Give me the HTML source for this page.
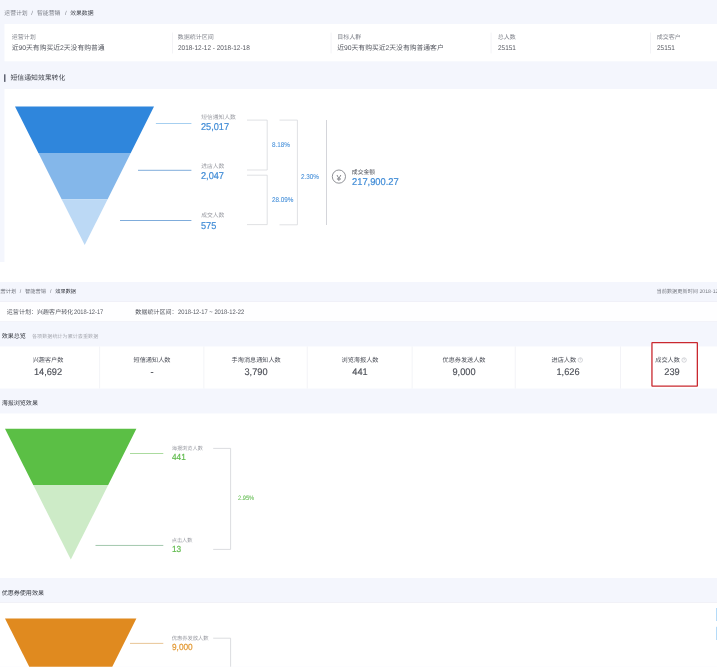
<!DOCTYPE html>
<html lang="zh-CN">
<head>
<meta charset="utf-8">
<title>效果数据</title>
<style>
html,body{margin:0;padding:0;background:#fff;}
body{width:717px;height:669px;position:relative;overflow:hidden;font-family:"Liberation Sans","Noto Sans CJK SC",sans-serif;-webkit-text-size-adjust:none;text-rendering:geometricPrecision;}
.r{position:absolute;}
.t{position:absolute;white-space:nowrap;display:block;}
.num{-webkit-text-stroke:0.2px currentColor;}
.pct{-webkit-text-stroke:0.1px currentColor;}
.num2{-webkit-text-stroke:0.15px currentColor;}
svg{position:absolute;left:0;top:0;}
</style>
</head>
<body>
<svg width="717" height="669" viewBox="0 0 717 669">
<rect x="0" y="0" width="717" height="262" fill="#f4f6fd"/>
<rect x="4.5" y="24" width="712.5" height="37.3" fill="#fff"/>
<rect x="4.5" y="89" width="712.5" height="173" fill="#fff"/>
<rect x="172.2" y="32.5" width="0.7" height="21" fill="#eeeef2"/>
<rect x="330.7" y="32.5" width="0.7" height="21" fill="#eeeef2"/>
<rect x="490.7" y="32.5" width="0.7" height="21" fill="#eeeef2"/>
<rect x="650.2" y="32.5" width="0.7" height="21" fill="#eeeef2"/>
<rect x="4.2" y="74.3" width="1.2" height="7.6" fill="#3c4050"/>
<rect x="0" y="282" width="717" height="384.7" fill="#f4f6fd"/>
<rect x="0" y="301.5" width="717" height="20" fill="#fefeff"/>
<rect x="0" y="301.2" width="717" height="0.6" fill="#e9eaf3"/>
<rect x="0" y="321.2" width="717" height="0.6" fill="#eeeff6"/>
<rect x="0" y="346.5" width="717" height="42" fill="#fff"/>
<rect x="99.3" y="346.5" width="0.8" height="42" fill="#f0f1f5"/>
<rect x="203.5" y="346.5" width="0.8" height="42" fill="#f0f1f5"/>
<rect x="306.8" y="346.5" width="0.8" height="42" fill="#f0f1f5"/>
<rect x="411.7" y="346.5" width="0.8" height="42" fill="#f0f1f5"/>
<rect x="514.8" y="346.5" width="0.8" height="42" fill="#f0f1f5"/>
<rect x="620.2" y="346.5" width="0.8" height="42" fill="#f0f1f5"/>
<rect x="651.5" y="342.2" width="46.3" height="44.4" fill="#fff"/>
<rect x="0" y="413.5" width="717" height="164.5" fill="#fff"/>
<rect x="0" y="602.3" width="717" height="64.4" fill="#fff"/>
<rect x="0" y="602" width="717" height="0.6" fill="#e9eaf2"/>
<rect x="716" y="608" width="1" height="13" fill="#b5dbf8"/>
<rect x="716" y="626.8" width="1" height="13.2" fill="#b5dbf8"/>
<rect x="0" y="666.7" width="717" height="2.3" fill="#fff"/>
<polygon points="15.00,106.50 154.00,106.50 130.73,153.00 38.40,153.00" fill="#2f86dc"/>
<polygon points="38.40,153.00 130.73,153.00 107.62,199.20 61.65,199.20" fill="#84b7ea"/>
<polygon points="61.65,199.20 107.62,199.20 84.70,245.00 84.70,245.00" fill="#bcd9f5"/>
<line x1="155.9" y1="123.5" x2="191.4" y2="123.5" stroke="#8fc3ec" stroke-width="0.8"/>
<line x1="138" y1="170.3" x2="191.4" y2="170.3" stroke="#5e97d2" stroke-width="0.8"/>
<line x1="120" y1="220.5" x2="191.4" y2="220.5" stroke="#5e97d2" stroke-width="0.8"/>
<polyline points="247.00,120.10 267.20,120.10 267.20,170.00 247.00,170.00" fill="none" stroke="#d3d4d9" stroke-width="0.7"/>
<polyline points="247.00,175.20 267.20,175.20 267.20,224.60 247.00,224.60" fill="none" stroke="#d3d4d9" stroke-width="0.7"/>
<polyline points="279.50,120.10 297.40,120.10 297.40,224.80 279.50,224.80" fill="none" stroke="#d3d4d9" stroke-width="0.7"/>
<line x1="326.5" y1="120" x2="326.5" y2="225" stroke="#c9cad0" stroke-width="0.8"/>
<circle cx="338.9" cy="176.6" r="6.6" fill="none" stroke="#74767c" stroke-width="0.8"/>
<circle cx="580.30" cy="360.0" r="2.25" fill="none" stroke="#adafb6" stroke-width="0.5"/>
<circle cx="684.10" cy="360.0" r="2.25" fill="none" stroke="#adafb6" stroke-width="0.5"/>
<rect x="651.95" y="342.65" width="45.4" height="43.5" rx="0.3" fill="none" stroke="#c9282f" stroke-width="1.3"/>
<polygon points="5.00,428.80 136.40,428.80 108.21,485.00 33.27,485.00" fill="#5bbf45"/>
<polygon points="33.27,485.00 108.21,485.00 70.80,559.60 70.80,559.60" fill="#cdebc7"/>
<line x1="130" y1="453.5" x2="163.3" y2="453.5" stroke="#86cb76" stroke-width="0.7"/>
<line x1="95.5" y1="545.45" x2="163.3" y2="545.45" stroke="#7bb08a" stroke-width="0.7"/>
<polyline points="213.20,448.40 230.60,448.40 230.60,549.40 213.20,549.40" fill="none" stroke="#cdced3" stroke-width="0.7"/>
<polygon points="5.00,618.50 136.40,618.50 112.23,666.70 29.25,666.70" fill="#e08a1f"/>
<line x1="130" y1="643.4" x2="163.3" y2="643.4" stroke="#e2b77c" stroke-width="0.8"/>
<polyline points="213.20,638.20 230.60,638.20 230.60,666.70" fill="none" stroke="#cdced3" stroke-width="0.7"/>
</svg>
<span class="t " style="left:4.3px;top:9.5px;font-size:5.85px;line-height:8.19px;color:#7c7f88;">运营计划</span>
<span class="t " style="left:31.2px;top:9.5px;font-size:5.85px;line-height:8.19px;color:#7c7f88;">/</span>
<span class="t " style="left:37.0px;top:9.5px;font-size:5.85px;line-height:8.19px;color:#7c7f88;">智能营销</span>
<span class="t " style="left:65px;top:9.5px;font-size:5.85px;line-height:8.19px;color:#7c7f88;">/</span>
<span class="t " style="left:70.2px;top:9.5px;font-size:5.85px;line-height:8.19px;color:#44474f;">效果数据</span>
<span class="t " style="left:11.7px;top:33.8px;font-size:6.0px;line-height:8.4px;color:#82858d;">运营计划</span>
<span class="t " style="left:11.7px;top:44.04px;font-size:6.8px;line-height:9.52px;color:#565961;">近90天有购买近2天没有购普通</span>
<span class="t " style="left:177.7px;top:33.8px;font-size:6.0px;line-height:8.4px;color:#82858d;">数据统计区间</span>
<span class="t " style="left:178px;top:43.64px;font-size:6.8px;line-height:9.52px;color:#565961;transform-origin:left center;transform:scaleX(0.95);">2018-12-12 - 2018-12-18</span>
<span class="t " style="left:337.2px;top:33.8px;font-size:6.0px;line-height:8.4px;color:#82858d;">目标人群</span>
<span class="t " style="left:337.2px;top:44.04px;font-size:6.8px;line-height:9.52px;color:#565961;">近90天有购买近2天没有购普通客户</span>
<span class="t " style="left:497.7px;top:33.8px;font-size:6.0px;line-height:8.4px;color:#82858d;">总人数</span>
<span class="t " style="left:498px;top:43.64px;font-size:6.8px;line-height:9.52px;color:#565961;transform-origin:left center;transform:scaleX(0.95);">25151</span>
<span class="t " style="left:656.7px;top:33.8px;font-size:6.0px;line-height:8.4px;color:#82858d;">成交客户</span>
<span class="t " style="left:657px;top:43.64px;font-size:6.8px;line-height:9.52px;color:#565961;transform-origin:left center;transform:scaleX(0.95);">25151</span>
<span class="t " style="left:10.5px;top:74.11px;font-size:6.85px;line-height:9.59px;color:#3c3f48;">短信通知效果转化</span>
<span class="t " style="left:201.2px;top:114.07px;font-size:5.75px;line-height:8.05px;color:#999ba2;">短信通知人数</span>
<span class="t num" style="left:201.3px;top:120.57px;font-size:9.9px;line-height:13.86px;color:#3f8bd6;transform-origin:left center;transform:scaleX(0.93);">25,017</span>
<span class="t " style="left:201.2px;top:162.78px;font-size:5.75px;line-height:8.05px;color:#999ba2;">进店人数</span>
<span class="t num" style="left:201.3px;top:169.57px;font-size:9.9px;line-height:13.86px;color:#3f8bd6;transform-origin:left center;transform:scaleX(0.93);">2,047</span>
<span class="t " style="left:201.2px;top:212.17px;font-size:5.75px;line-height:8.05px;color:#999ba2;">成交人数</span>
<span class="t num" style="left:201.3px;top:220.37px;font-size:9.9px;line-height:13.86px;color:#3f8bd6;transform-origin:left center;transform:scaleX(0.93);">575</span>
<span class="t pct" style="left:272px;top:140.8px;font-size:7.0px;line-height:9.8px;color:#4a92da;transform-origin:left center;transform:scaleX(0.905);">8.18%</span>
<span class="t pct" style="left:272.2px;top:195.8px;font-size:7.0px;line-height:9.8px;color:#4a92da;transform-origin:left center;transform:scaleX(0.905);">28.09%</span>
<span class="t pct" style="left:300.8px;top:173.1px;font-size:7.0px;line-height:9.8px;color:#4a92da;transform-origin:left center;transform:scaleX(0.905);">2.30%</span>
<span class="t " style="left:338.9px;top:171.78px;font-size:8.6px;line-height:12.04px;color:#74767c;transform-origin:center;transform:translateX(-50%);">¥</span>
<span class="t " style="left:351.8px;top:168.5px;font-size:5.85px;line-height:8.19px;color:#4c4f57;">成交金额</span>
<span class="t num" style="left:351.8px;top:176.37px;font-size:9.9px;line-height:13.86px;color:#3f8bd6;transform-origin:left center;transform:scaleX(0.945);">217,900.27</span>
<span class="t " style="left:-4.6px;top:289.16px;font-size:5.2px;line-height:7.28px;color:#70737c;">运营计划</span>
<span class="t " style="left:19.8px;top:289.16px;font-size:5.2px;line-height:7.28px;color:#70737c;">/</span>
<span class="t " style="left:25.1px;top:289.16px;font-size:5.2px;line-height:7.28px;color:#70737c;">智能营销</span>
<span class="t " style="left:50px;top:289.16px;font-size:5.2px;line-height:7.28px;color:#70737c;">/</span>
<span class="t " style="left:55.3px;top:289.16px;font-size:5.2px;line-height:7.28px;color:#33363e;">效果数据</span>
<span class="t " style="left:656.5px;top:288.96px;font-size:5.2px;line-height:7.28px;color:#777a82;">当前数据更新时间 2018-12-22 10:00</span>
<span class="t " style="left:6.8px;top:308.76px;font-size:6.05px;line-height:8.47px;color:#54575f;">运营计划：兴趣客户转化</span>
<span class="t " style="left:73.5px;top:308.05px;font-size:6.5px;line-height:9.1px;color:#54575f;transform-origin:left center;transform:scaleX(0.88);">2018-12-17</span>
<span class="t " style="left:135.3px;top:308.76px;font-size:6.05px;line-height:8.47px;color:#54575f;">数据统计区间：</span>
<span class="t " style="left:178.2px;top:308.05px;font-size:6.5px;line-height:9.1px;color:#54575f;transform-origin:left center;transform:scaleX(0.895);">2018-12-17 ~ 2018-12-22</span>
<span class="t " style="left:1.7px;top:333.16px;font-size:6.05px;line-height:8.47px;color:#33363e;">效果总览</span>
<span class="t " style="left:32px;top:333.93px;font-size:5.1px;line-height:7.14px;color:#a9abb3;">各项数据统计为累计去重数据</span>
<span class="t " style="left:48px;top:356.5px;font-size:6.15px;line-height:8.61px;color:#50535c;transform-origin:center;transform:translateX(-50%);">兴趣客户数</span>
<span class="t num2" style="left:48px;top:365.58px;font-size:9.6px;line-height:13.44px;color:#4c4f57;transform-origin:center;transform:translateX(-50%) scaleX(0.96);">14,692</span>
<span class="t " style="left:152px;top:356.5px;font-size:6.15px;line-height:8.61px;color:#50535c;transform-origin:center;transform:translateX(-50%);">短信通知人数</span>
<span class="t num2" style="left:152px;top:365.58px;font-size:9.6px;line-height:13.44px;color:#4c4f57;transform-origin:center;transform:translateX(-50%) scaleX(0.96);">-</span>
<span class="t " style="left:256.2px;top:356.5px;font-size:6.15px;line-height:8.61px;color:#50535c;transform-origin:center;transform:translateX(-50%);">手淘消息通知人数</span>
<span class="t num2" style="left:256.2px;top:365.58px;font-size:9.6px;line-height:13.44px;color:#4c4f57;transform-origin:center;transform:translateX(-50%) scaleX(0.96);">3,790</span>
<span class="t " style="left:360px;top:356.5px;font-size:6.15px;line-height:8.61px;color:#50535c;transform-origin:center;transform:translateX(-50%);">浏览海报人数</span>
<span class="t num2" style="left:360px;top:365.58px;font-size:9.6px;line-height:13.44px;color:#4c4f57;transform-origin:center;transform:translateX(-50%) scaleX(0.96);">441</span>
<span class="t " style="left:464px;top:356.5px;font-size:6.15px;line-height:8.61px;color:#50535c;transform-origin:center;transform:translateX(-50%);">优惠券发送人数</span>
<span class="t num2" style="left:464px;top:365.58px;font-size:9.6px;line-height:13.44px;color:#4c4f57;transform-origin:center;transform:translateX(-50%) scaleX(0.96);">9,000</span>
<span class="t " style="left:551.5px;top:356.5px;font-size:6.15px;line-height:8.61px;color:#50535c;">进店人数</span>
<span class="t " style="left:580.3px;top:357.58px;font-size:3.6px;line-height:5.04px;color:#adafb6;transform-origin:center;transform:translateX(-50%);">?</span>
<span class="t num2" style="left:568.2px;top:365.58px;font-size:9.6px;line-height:13.44px;color:#4c4f57;transform-origin:center;transform:translateX(-50%) scaleX(0.96);">1,626</span>
<span class="t " style="left:655.3px;top:356.5px;font-size:6.15px;line-height:8.61px;color:#50535c;">成交人数</span>
<span class="t " style="left:684.0999999999999px;top:357.58px;font-size:3.6px;line-height:5.04px;color:#adafb6;transform-origin:center;transform:translateX(-50%);">?</span>
<span class="t num2" style="left:672px;top:365.58px;font-size:9.6px;line-height:13.44px;color:#4c4f57;transform-origin:center;transform:translateX(-50%) scaleX(0.96);">239</span>
<span class="t " style="left:1.7px;top:399.56px;font-size:6.05px;line-height:8.47px;color:#33363e;">海报浏览效果</span>
<span class="t " style="left:171.7px;top:445.66px;font-size:5.2px;line-height:7.28px;color:#999ba2;">海报浏览人数</span>
<span class="t num" style="left:171.8px;top:450.97px;font-size:8.9px;line-height:12.46px;color:#5fba4c;transform-origin:left center;transform:scaleX(0.93);">441</span>
<span class="t " style="left:171.7px;top:538.36px;font-size:5.2px;line-height:7.28px;color:#999ba2;">点击人数</span>
<span class="t num" style="left:171.8px;top:542.77px;font-size:8.9px;line-height:12.46px;color:#5fba4c;transform-origin:left center;transform:scaleX(0.93);">13</span>
<span class="t pct" style="left:237.5px;top:495.49px;font-size:6.3px;line-height:8.82px;color:#6abf59;transform-origin:left center;transform:scaleX(0.905);">2.95%</span>
<span class="t " style="left:1.7px;top:589.76px;font-size:6.05px;line-height:8.47px;color:#33363e;">优惠券使用效果</span>
<span class="t " style="left:171.7px;top:635.93px;font-size:5.25px;line-height:7.35px;color:#999ba2;">优惠券发放人数</span>
<span class="t num" style="left:171.8px;top:640.97px;font-size:8.9px;line-height:12.46px;color:#e39a35;transform-origin:left center;transform:scaleX(0.93);">9,000</span>
</body>
</html>
